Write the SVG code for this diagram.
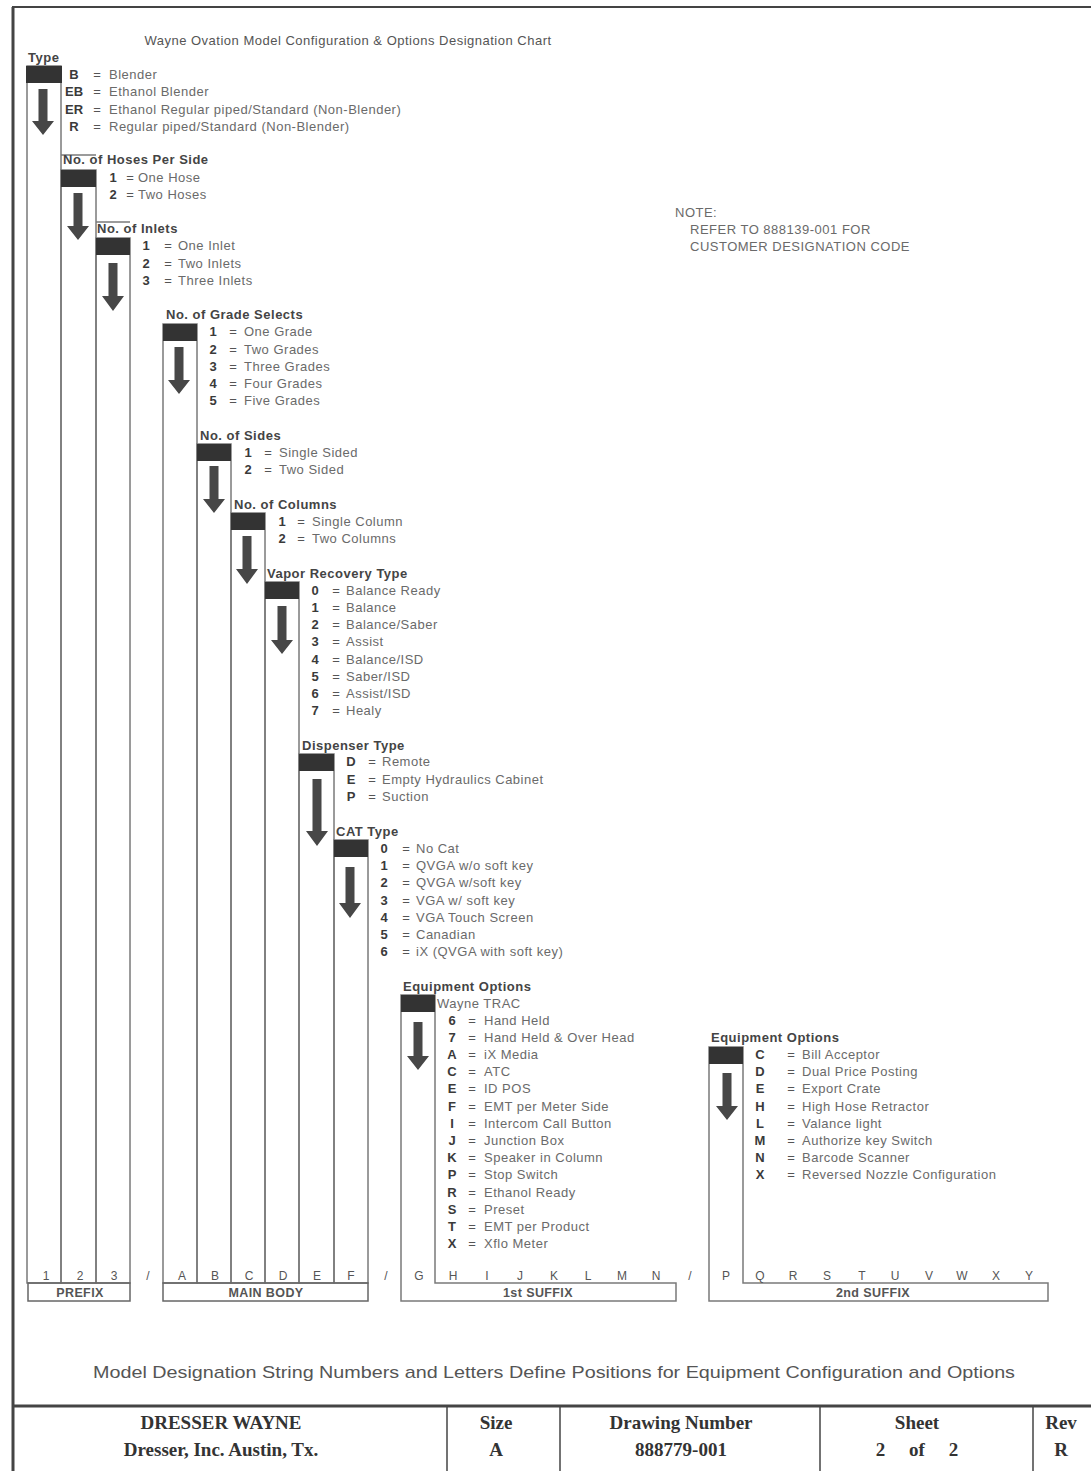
<svg xmlns="http://www.w3.org/2000/svg" width="1091" height="1471" viewBox="0 0 1091 1471">
<style>
text { font-family: "Liberation Sans", Arial, sans-serif; }
.t { font-size: 13px; letter-spacing: 0.5px; fill: #6a6a6a; }
.c { font-size: 13px; font-weight: bold; fill: #3a3a3a; text-anchor: middle; }
.e { font-size: 13px; fill: #555; text-anchor: middle; }
.h { font-size: 13px; letter-spacing: 0.5px; font-weight: bold; fill: #444; }
.hdr { fill: #333; }
.col { fill: none; stroke: #7a7a7a; stroke-width: 1.5; }
.arr { fill: #474747; }
.pos { font-size: 12px; fill: #555; text-anchor: middle; }
.grp { font-size: 12.5px; letter-spacing: 0.4px; font-weight: bold; fill: #555; text-anchor: middle; }
.box { fill: none; stroke: #666; stroke-width: 1.5; }
.tb { font-family: "Liberation Serif", "Times New Roman", serif; font-size: 19px; font-weight: bold; fill: #333; text-anchor: middle; }
.frame { stroke: #444; fill: none; }
</style>

<g id="frame">
  <line class="frame" x1="13" y1="7" x2="13" y2="1471" stroke-width="3"/>
  <line class="frame" x1="12" y1="7" x2="1091" y2="7" stroke-width="2"/>
</g>

<text id="title" x="348" y="45" class="t" text-anchor="middle" style="fill:#555">Wayne Ovation Model Configuration &amp; Options Designation Chart</text>

<g id="note">
  <text x="675" y="217" class="t">NOTE:</text>
  <text x="690" y="234" class="t">REFER TO 888139-001 FOR</text>
  <text x="690" y="251" class="t">CUSTOMER DESIGNATION CODE</text>
</g>

<g id="connectors">
  <line class="col" x1="61" y1="155" x2="96" y2="155"/>
  <line class="col" x1="96" y1="222" x2="130" y2="222"/>
</g>

<g id="type">
  <rect class="col" x="27" y="66" width="34" height="1217"/>
  <rect class="hdr" x="26" y="66" width="36" height="17"/>
  <text x="28" y="62" class="h">Type</text>
  <path class="arr" d="M38.5,89 H47.5 V121 H54 L43,135 L32,121 H38.5 Z"/>
  <text x="74" y="79" class="c">B</text><text x="97" y="79" class="e">=</text><text x="109" y="79" class="t">Blender</text>
  <text x="74" y="96" class="c">EB</text><text x="97" y="96" class="e">=</text><text x="109" y="96" class="t">Ethanol Blender</text>
  <text x="74" y="114" class="c">ER</text><text x="97" y="114" class="e">=</text><text x="109" y="114" class="t">Ethanol Regular piped/Standard (Non-Blender)</text>
  <text x="74" y="131" class="c">R</text><text x="97" y="131" class="e">=</text><text x="109" y="131" class="t">Regular piped/Standard  (Non-Blender)</text>
</g>

<g id="hoses">
  <rect class="col" x="61" y="170" width="35" height="1113"/>
  <rect class="hdr" x="61" y="170" width="35" height="17"/>
  <text x="63" y="164" class="h">No. of Hoses Per Side</text>
  <path class="arr" d="M73.5,193 H82.5 V226 H89 L78,240 L67,226 H73.5 Z"/>
  <text x="113" y="182" class="c">1</text><text x="130" y="182" class="e">=</text><text x="138" y="182" class="t">One Hose</text>
  <text x="113" y="199" class="c">2</text><text x="130" y="199" class="e">=</text><text x="138" y="199" class="t">Two Hoses</text>
</g>

<g id="inlets">
  <rect class="col" x="96" y="238" width="34" height="1045"/>
  <rect class="hdr" x="96" y="238" width="34" height="17"/>
  <text x="97" y="233" class="h">No. of Inlets</text>
  <path class="arr" d="M108.5,263 H117.5 V296 H124 L113,311 L102,296 H108.5 Z"/>
  <text x="146" y="250" class="c">1</text><text x="168" y="250" class="e">=</text><text x="178" y="250" class="t">One Inlet</text>
  <text x="146" y="268" class="c">2</text><text x="168" y="268" class="e">=</text><text x="178" y="268" class="t">Two Inlets</text>
  <text x="146" y="285" class="c">3</text><text x="168" y="285" class="e">=</text><text x="178" y="285" class="t">Three Inlets</text>
</g>

<g id="grades">
  <rect class="col" x="163" y="324" width="34" height="959"/>
  <rect class="hdr" x="163" y="324" width="34" height="17"/>
  <text x="166" y="319" class="h">No. of Grade Selects</text>
  <path class="arr" d="M174.5,347 H183.5 V380 H190 L179,394 L168,380 H174.5 Z"/>
  <text x="213" y="336" class="c">1</text><text x="233" y="336" class="e">=</text><text x="244" y="336" class="t">One Grade</text>
  <text x="213" y="354" class="c">2</text><text x="233" y="354" class="e">=</text><text x="244" y="354" class="t">Two Grades</text>
  <text x="213" y="371" class="c">3</text><text x="233" y="371" class="e">=</text><text x="244" y="371" class="t">Three Grades</text>
  <text x="213" y="388" class="c">4</text><text x="233" y="388" class="e">=</text><text x="244" y="388" class="t">Four Grades</text>
  <text x="213" y="405" class="c">5</text><text x="233" y="405" class="e">=</text><text x="244" y="405" class="t">Five Grades</text>
</g>

<g id="sides">
  <rect class="col" x="197" y="444" width="34" height="839"/>
  <rect class="hdr" x="197" y="444" width="34" height="17"/>
  <text x="200" y="440" class="h">No. of Sides</text>
  <path class="arr" d="M209.5,466 H218.5 V499 H225 L214,513 L203,499 H209.5 Z"/>
  <text x="248" y="457" class="c">1</text><text x="268" y="457" class="e">=</text><text x="279" y="457" class="t">Single Sided</text>
  <text x="248" y="474" class="c">2</text><text x="268" y="474" class="e">=</text><text x="279" y="474" class="t">Two Sided</text>
</g>

<g id="columns">
  <rect class="col" x="231" y="513" width="34" height="770"/>
  <rect class="hdr" x="231" y="513" width="34" height="17"/>
  <text x="234" y="509" class="h">No. of Columns</text>
  <path class="arr" d="M242.5,536 H251.5 V569 H258 L247,584 L236,569 H242.5 Z"/>
  <text x="282" y="526" class="c">1</text><text x="301" y="526" class="e">=</text><text x="312" y="526" class="t">Single Column</text>
  <text x="282" y="543" class="c">2</text><text x="301" y="543" class="e">=</text><text x="312" y="543" class="t">Two Columns</text>
</g>

<g id="vapor">
  <rect class="col" x="265" y="582" width="34" height="701"/>
  <rect class="hdr" x="265" y="582" width="34" height="17"/>
  <text x="267" y="578" class="h">Vapor Recovery Type</text>
  <path class="arr" d="M277.5,606 H286.5 V640 H293 L282,654 L271,640 H277.5 Z"/>
  <text x="315" y="595" class="c">0</text><text x="336" y="595" class="e">=</text><text x="346" y="595" class="t">Balance Ready</text>
  <text x="315" y="612" class="c">1</text><text x="336" y="612" class="e">=</text><text x="346" y="612" class="t">Balance</text>
  <text x="315" y="629" class="c">2</text><text x="336" y="629" class="e">=</text><text x="346" y="629" class="t">Balance/Saber</text>
  <text x="315" y="646" class="c">3</text><text x="336" y="646" class="e">=</text><text x="346" y="646" class="t">Assist</text>
  <text x="315" y="664" class="c">4</text><text x="336" y="664" class="e">=</text><text x="346" y="664" class="t">Balance/ISD</text>
  <text x="315" y="681" class="c">5</text><text x="336" y="681" class="e">=</text><text x="346" y="681" class="t">Saber/ISD</text>
  <text x="315" y="698" class="c">6</text><text x="336" y="698" class="e">=</text><text x="346" y="698" class="t">Assist/ISD</text>
  <text x="315" y="715" class="c">7</text><text x="336" y="715" class="e">=</text><text x="346" y="715" class="t">Healy</text>
</g>

<g id="dispenser">
  <rect class="col" x="299" y="754" width="35" height="529"/>
  <rect class="hdr" x="299" y="754" width="35" height="17"/>
  <text x="302" y="750" class="h">Dispenser Type</text>
  <path class="arr" d="M312.5,779 H321.5 V831 H328 L317,846 L306,831 H312.5 Z"/>
  <text x="351" y="766" class="c">D</text><text x="372" y="766" class="e">=</text><text x="382" y="766" class="t">Remote</text>
  <text x="351" y="784" class="c">E</text><text x="372" y="784" class="e">=</text><text x="382" y="784" class="t">Empty Hydraulics Cabinet</text>
  <text x="351" y="801" class="c">P</text><text x="372" y="801" class="e">=</text><text x="382" y="801" class="t">Suction</text>
</g>

<g id="cat">
  <rect class="col" x="334" y="840" width="34" height="443"/>
  <rect class="hdr" x="334" y="840" width="34" height="17"/>
  <text x="336" y="836" class="h">CAT Type</text>
  <path class="arr" d="M345.5,867 H354.5 V903 H361 L350,918 L339,903 H345.5 Z"/>
  <text x="384" y="853" class="c">0</text><text x="406" y="853" class="e">=</text><text x="416" y="853" class="t">No Cat</text>
  <text x="384" y="870" class="c">1</text><text x="406" y="870" class="e">=</text><text x="416" y="870" class="t">QVGA w/o soft key</text>
  <text x="384" y="887" class="c">2</text><text x="406" y="887" class="e">=</text><text x="416" y="887" class="t">QVGA w/soft key</text>
  <text x="384" y="905" class="c">3</text><text x="406" y="905" class="e">=</text><text x="416" y="905" class="t">VGA w/ soft key</text>
  <text x="384" y="922" class="c">4</text><text x="406" y="922" class="e">=</text><text x="416" y="922" class="t">VGA Touch Screen</text>
  <text x="384" y="939" class="c">5</text><text x="406" y="939" class="e">=</text><text x="416" y="939" class="t">Canadian</text>
  <text x="384" y="956" class="c">6</text><text x="406" y="956" class="e">=</text><text x="416" y="956" class="t">iX (QVGA with soft key)</text>
</g>

<g id="equip1">
  <path class="col" d="M435,1283 V995 H401 V1301 H676 V1283 Z"/>
  <rect class="hdr" x="401" y="995" width="34" height="17"/>
  <text x="403" y="991" class="h">Equipment Options</text>
  <text x="437" y="1008" class="t">Wayne TRAC</text>
  <path class="arr" d="M413.5,1022 H422.5 V1056 H429 L418,1070 L407,1056 H413.5 Z"/>
  <text x="452" y="1025" class="c">6</text><text x="472" y="1025" class="e">=</text><text x="484" y="1025" class="t">Hand Held</text>
  <text x="452" y="1042" class="c">7</text><text x="472" y="1042" class="e">=</text><text x="484" y="1042" class="t">Hand Held &amp; Over Head</text>
  <text x="452" y="1059" class="c">A</text><text x="472" y="1059" class="e">=</text><text x="484" y="1059" class="t">iX Media</text>
  <text x="452" y="1076" class="c">C</text><text x="472" y="1076" class="e">=</text><text x="484" y="1076" class="t">ATC</text>
  <text x="452" y="1093" class="c">E</text><text x="472" y="1093" class="e">=</text><text x="484" y="1093" class="t">ID POS</text>
  <text x="452" y="1111" class="c">F</text><text x="472" y="1111" class="e">=</text><text x="484" y="1111" class="t">EMT per Meter Side</text>
  <text x="452" y="1128" class="c">I</text><text x="472" y="1128" class="e">=</text><text x="484" y="1128" class="t">Intercom Call Button</text>
  <text x="452" y="1145" class="c">J</text><text x="472" y="1145" class="e">=</text><text x="484" y="1145" class="t">Junction Box</text>
  <text x="452" y="1162" class="c">K</text><text x="472" y="1162" class="e">=</text><text x="484" y="1162" class="t">Speaker in Column</text>
  <text x="452" y="1179" class="c">P</text><text x="472" y="1179" class="e">=</text><text x="484" y="1179" class="t">Stop Switch</text>
  <text x="452" y="1197" class="c">R</text><text x="472" y="1197" class="e">=</text><text x="484" y="1197" class="t">Ethanol Ready</text>
  <text x="452" y="1214" class="c">S</text><text x="472" y="1214" class="e">=</text><text x="484" y="1214" class="t">Preset</text>
  <text x="452" y="1231" class="c">T</text><text x="472" y="1231" class="e">=</text><text x="484" y="1231" class="t">EMT per Product</text>
  <text x="452" y="1248" class="c">X</text><text x="472" y="1248" class="e">=</text><text x="484" y="1248" class="t">Xflo Meter</text>
</g>

<g id="equip2">
  <path class="col" d="M743,1283 V1047 H709 V1301 H1048 V1283 Z"/>
  <rect class="hdr" x="709" y="1047" width="34" height="17"/>
  <text x="711" y="1042" class="h">Equipment Options</text>
  <path class="arr" d="M722.5,1073 H731.5 V1106 H738 L727,1120 L716,1106 H722.5 Z"/>
  <text x="760" y="1059" class="c">C</text><text x="791" y="1059" class="e">=</text><text x="802" y="1059" class="t">Bill Acceptor</text>
  <text x="760" y="1076" class="c">D</text><text x="791" y="1076" class="e">=</text><text x="802" y="1076" class="t">Dual Price Posting</text>
  <text x="760" y="1093" class="c">E</text><text x="791" y="1093" class="e">=</text><text x="802" y="1093" class="t">Export Crate</text>
  <text x="760" y="1111" class="c">H</text><text x="791" y="1111" class="e">=</text><text x="802" y="1111" class="t">High Hose Retractor</text>
  <text x="760" y="1128" class="c">L</text><text x="791" y="1128" class="e">=</text><text x="802" y="1128" class="t">Valance light</text>
  <text x="760" y="1145" class="c">M</text><text x="791" y="1145" class="e">=</text><text x="802" y="1145" class="t">Authorize key Switch</text>
  <text x="760" y="1162" class="c">N</text><text x="791" y="1162" class="e">=</text><text x="802" y="1162" class="t">Barcode Scanner</text>
  <text x="760" y="1179" class="c">X</text><text x="791" y="1179" class="e">=</text><text x="802" y="1179" class="t">Reversed Nozzle Configuration</text>
</g>

<g id="position-bar">
  <rect class="box" x="28" y="1283" width="102" height="18"/>
  <rect class="box" x="163" y="1283" width="205" height="18"/>
  <text x="80" y="1297" class="grp">PREFIX</text>
  <text x="266" y="1297" class="grp">MAIN BODY</text>
  <text x="538" y="1297" class="grp">1st SUFFIX</text>
  <text x="873" y="1297" class="grp">2nd SUFFIX</text>
  <text x="46" y="1280" class="pos">1</text>
  <text x="80" y="1280" class="pos">2</text>
  <text x="114" y="1280" class="pos">3</text>
  <text x="148" y="1280" class="pos">/</text>
  <text x="182" y="1280" class="pos">A</text>
  <text x="215" y="1280" class="pos">B</text>
  <text x="249" y="1280" class="pos">C</text>
  <text x="283" y="1280" class="pos">D</text>
  <text x="317" y="1280" class="pos">E</text>
  <text x="351" y="1280" class="pos">F</text>
  <text x="386" y="1280" class="pos">/</text>
  <text x="419" y="1280" class="pos">G</text>
  <text x="453" y="1280" class="pos">H</text>
  <text x="487" y="1280" class="pos">I</text>
  <text x="520" y="1280" class="pos">J</text>
  <text x="554" y="1280" class="pos">K</text>
  <text x="588" y="1280" class="pos">L</text>
  <text x="622" y="1280" class="pos">M</text>
  <text x="656" y="1280" class="pos">N</text>
  <text x="690" y="1280" class="pos">/</text>
  <text x="726" y="1280" class="pos">P</text>
  <text x="760" y="1280" class="pos">Q</text>
  <text x="793" y="1280" class="pos">R</text>
  <text x="827" y="1280" class="pos">S</text>
  <text x="862" y="1280" class="pos">T</text>
  <text x="895" y="1280" class="pos">U</text>
  <text x="929" y="1280" class="pos">V</text>
  <text x="962" y="1280" class="pos">W</text>
  <text x="996" y="1280" class="pos">X</text>
  <text x="1029" y="1280" class="pos">Y</text>
</g>

<text id="caption" x="93" y="1378" font-size="17" fill="#555" textLength="922" lengthAdjust="spacingAndGlyphs">Model Designation String Numbers and Letters Define Positions for Equipment Configuration and Options</text>

<g id="title-block">
  <line class="frame" x1="13" y1="1406" x2="1091" y2="1406" stroke-width="3"/>
  <line class="frame" x1="447" y1="1406" x2="447" y2="1471" stroke-width="1.5"/>
  <line class="frame" x1="560" y1="1406" x2="560" y2="1471" stroke-width="1.5"/>
  <line class="frame" x1="820" y1="1406" x2="820" y2="1471" stroke-width="1.5"/>
  <line class="frame" x1="1033" y1="1406" x2="1033" y2="1471" stroke-width="1.5"/>
  <text x="221" y="1429" class="tb">DRESSER WAYNE</text>
  <text x="221" y="1456" class="tb">Dresser, Inc. Austin, Tx.</text>
  <text x="496" y="1429" class="tb">Size</text>
  <text x="496" y="1456" class="tb">A</text>
  <text x="681" y="1429" class="tb">Drawing Number</text>
  <text x="681" y="1456" class="tb">888779-001</text>
  <text x="917" y="1429" class="tb">Sheet</text>
  <text x="917" y="1456" class="tb" xml:space="preserve">2     of     2</text>
  <text x="1061" y="1429" class="tb">Rev</text>
  <text x="1061" y="1456" class="tb">R</text>
</g>
</svg>
